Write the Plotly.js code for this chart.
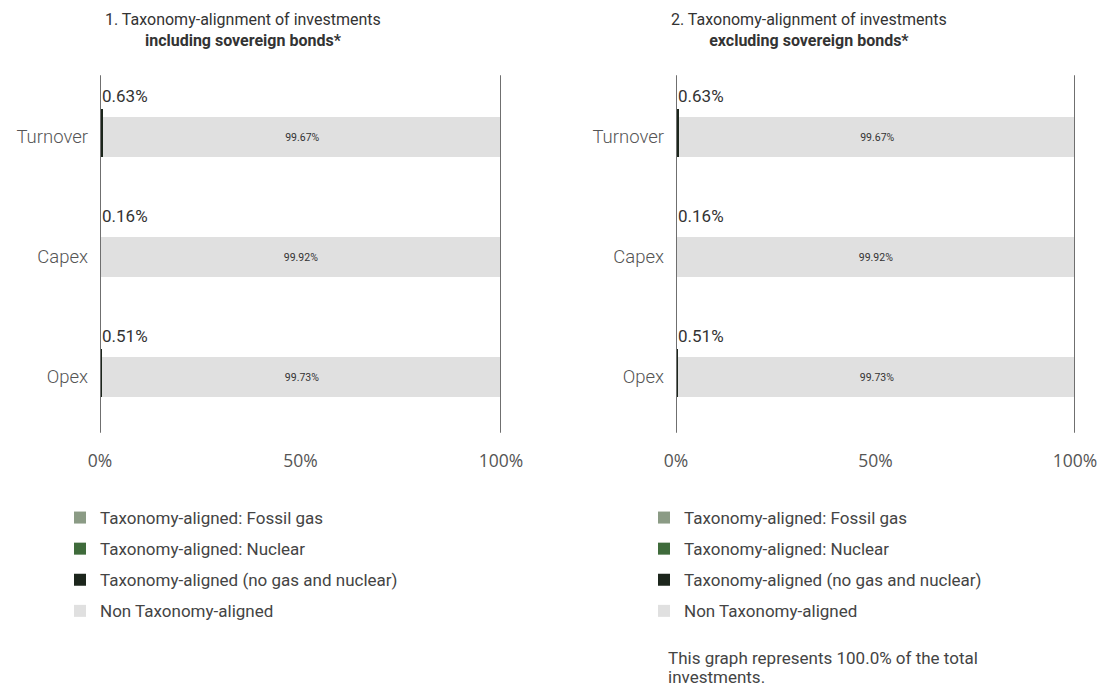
<!DOCTYPE html>
<html>
<head>
<meta charset="utf-8">
<script src="https://cdn.plot.ly/plotly-3.0.1.min.js"></script>
<style>html,body{margin:0;padding:0;background:#fff;}#chart{width:1100px;height:700px;}</style>
</head>
<body>
<div id="chart"></div>
<script>
// ---- data ----
const categories = ['Turnover', 'Capex', 'Opex'];
const seriesNames = ['Taxonomy-aligned: Fossil gas', 'Taxonomy-aligned: Nuclear', 'Taxonomy-aligned (no gas and nuclear)', 'Non Taxonomy-aligned'];
const fossilGas1 = [0, 0, 0];
const nuclear1 = [0, 0, 0];
const aligned1 = [0.63, 0.16, 0.51];
const nonAligned1 = [99.67, 99.92, 99.73];
const fossilGas2 = [0, 0, 0];
const nuclear2 = [0, 0, 0];
const aligned2 = [0.63, 0.16, 0.51];
const nonAligned2 = [99.67, 99.92, 99.73];
const xTickVals = [0, 50, 100];
const xTickText = ['0%', '50%', '100%'];
const titles = ['1. Taxonomy-alignment of investments<br><b>including sovereign bonds*</b>',
                '2. Taxonomy-alignment of investments<br><b>excluding sovereign bonds*</b>'];
const footnoteLines = ['This graph represents 100.0% of the total', 'investments.'];

// ---- styles ----
const W = 1100, H = 700;
const colors = ['#8b9b85', '#3f6b3b', '#1c261c', '#e0e0e0'];
const FONT = 'Roboto, "Liberation Sans", Arial, sans-serif';
const px = v => v / W, py = v => 1 - v / H;

function fmt(v) { return v.toFixed(2) + '%'; }

function makeTraces(sets, xa, ya, leg, tag) {
  const out = [];
  sets.forEach((vals, i) => {
    const isAligned = i === 2;
    const isNon = i === 3;
    out.push({
      type: 'bar', orientation: 'h',
      name: seriesNames[i],
      x: vals, y: categories,
      xaxis: xa, yaxis: ya,
      legend: leg, legendgroup: tag + i,
      marker: {color: colors[i], line: {width: 0}},
      width: isAligned ? 0.4 : 0.3333,
      offset: -0.1667,
      text: isNon ? vals.map(fmt) : undefined,
      textposition: isNon ? 'inside' : 'none',
      insidetextanchor: 'middle',
      textfont: {size: 10.5, color: '#333', family: FONT},
      hoverinfo: 'x+y+name'
    });
  });
  return out;
}

const data = [
  ...makeTraces([fossilGas1, nuclear1, aligned1, nonAligned1], 'x', 'y', 'legend', 'a'),
  ...makeTraces([fossilGas2, nuclear2, aligned2, nonAligned2], 'x2', 'y2', 'legend2', 'b')
];

const xCommon = {
  range: [0, 100], tickvals: xTickVals, ticktext: xTickText,
  showgrid: false, zeroline: false, showline: false, fixedrange: true,
  ticks: '', ticklabelstandoff: 11,
  tickfont: {family: '"Open Sans", sans-serif', size: 17.5, color: '#555'}
};
const yCommon = {
  type: 'category', categoryorder: 'array', categoryarray: categories.slice().reverse(),
  range: [-0.5, 2.5], showgrid: false, zeroline: false, showline: false, fixedrange: true,
  ticks: '', ticklabelstandoff: 11,
  tickfont: {family: FONT, size: 18.5, color: '#555', weight: 300}
};

const yDom = [1 - 437 / H, 1 - 77 / H];

const shapes = [];
[['x', 'y'], ['x2', 'y2']].forEach(([xa, ya]) => {
  [0, 100].forEach(v => shapes.push({
    type: 'line', xref: xa, yref: ya + ' domain', x0: v, x1: v, y0: 0.012, y1: 1.005,
    line: {color: '#6f6f6f', width: 2}, layer: 'above'
  }));
});

const annotations = [];
[[aligned1, 'x', 'y'], [aligned2, 'x2', 'y2']].forEach(([vals, xa, ya]) => {
  vals.forEach((v, i) => annotations.push({
    xref: xa, yref: ya, x: 0, y: categories[i], yshift: 41, xshift: 0,
    text: fmt(v), showarrow: false, xanchor: 'left', yanchor: 'middle',
    font: {family: FONT, size: 17, color: '#333'}
  }));
});
annotations.push({xref: 'paper', yref: 'paper', x: px(243), y: py(8), xanchor: 'center', yanchor: 'top',
  text: titles[0], showarrow: false, align: 'center', font: {family: FONT, size: 16, color: '#333'}});
annotations.push({xref: 'paper', yref: 'paper', x: px(809), y: py(8), xanchor: 'center', yanchor: 'top',
  text: titles[1], showarrow: false, align: 'center', font: {family: FONT, size: 16, color: '#333'}});
footnoteLines.forEach((t, i) => annotations.push({xref: 'paper', yref: 'paper', x: px(666), y: py(658 + 19 * i),
  xanchor: 'left', yanchor: 'middle', text: t, showarrow: false, align: 'left',
  font: {family: FONT, size: 17, color: '#444'}}));

const legendCommon = {
  orientation: 'v', xanchor: 'left', yanchor: 'top', traceorder: 'grouped', tracegroupgap: 6,
  font: {family: FONT, size: 17, color: '#444'}, bgcolor: 'rgba(0,0,0,0)', itemclick: false, itemdoubleclick: false
};

const layout = {
  width: W, height: H,
  margin: {l: 0, r: 0, t: 0, b: 0},
  paper_bgcolor: '#fff', plot_bgcolor: '#fff',
  barmode: 'stack', bargap: 0,
  showlegend: true,
  xaxis: Object.assign({}, xCommon, {domain: [px(100), px(501)], anchor: 'y'}),
  yaxis: Object.assign({}, yCommon, {domain: yDom, anchor: 'x'}),
  xaxis2: Object.assign({}, xCommon, {domain: [px(676), px(1075)], anchor: 'y2'}),
  yaxis2: Object.assign({}, yCommon, {domain: yDom, anchor: 'x2'}),
  legend: Object.assign({}, legendCommon, {x: px(60), y: py(500)}),
  legend2: Object.assign({}, legendCommon, {x: px(644), y: py(500)}),
  shapes: shapes,
  annotations: annotations,
  font: {family: FONT}
};

Plotly.newPlot('chart', data, layout, {staticPlot: true, displayModeBar: false});
</script>
</body>
</html>
